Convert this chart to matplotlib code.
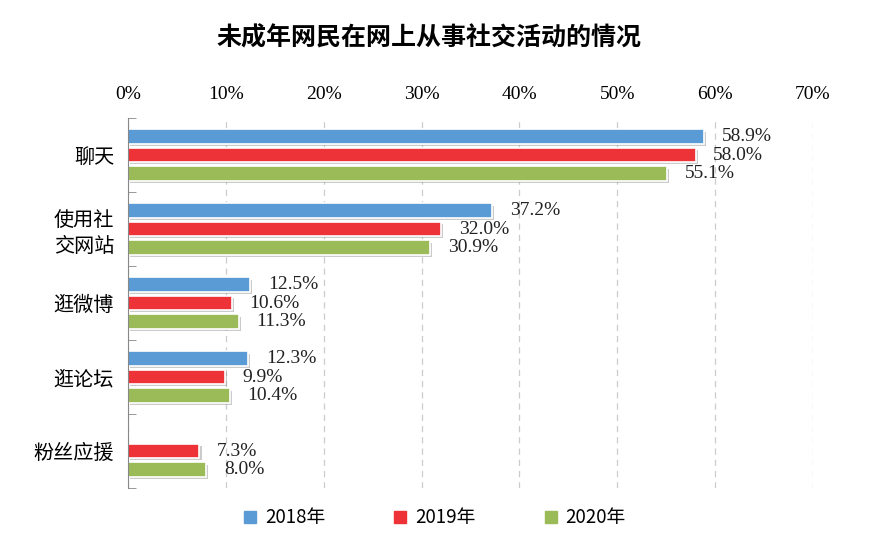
import numpy as np
import matplotlib
matplotlib.use('Agg')
import matplotlib.pyplot as plt
import matplotlib.patheffects as pe
from matplotlib.lines import Line2D

plt.rcParams['font.family'] = ['Noto Sans CJK SC', 'DejaVu Sans']

# === Data
categories = ['聊天', '使用社\n交网站', '逛微博', '逛论坛', '粉丝应援']
years = ['2018年', '2019年', '2020年']
v2018 = [58.9, 37.2, 12.5, 12.3, np.nan]
v2019 = [58.0, 32.0, 10.6, 9.9, 7.3]
v2020 = [55.1, 30.9, 11.3, 10.4, 8.0]
colors = ['#5B9BD5', '#EE3338', '#9BBB59']

# === Figure
fig = plt.figure(figsize=(8.84, 5.38), dpi=100)
ax = fig.add_axes([128 / 884, 1 - 488 / 538, (813 - 128) / 884, (488 - 118) / 538])

y = np.arange(len(categories))
step = 0.25
bar_h = 0.19
shadow = [pe.SimplePatchShadow(offset=(1.5, -1.5), shadow_rgbFace='#999999', alpha=0.5), pe.Normal()]

for k, (vals, col) in enumerate(zip([v2018, v2019, v2020], colors)):
    pos = y + (k - 1) * step
    bars = ax.barh(pos, vals, height=bar_h, color=col, edgecolor='white', linewidth=1.2)
    for b in bars:
        b.set_path_effects(shadow)
    for p, v in zip(pos, vals):
        if np.isnan(v):
            continue
        ax.text(v + 1.8, p, f'{v:.1f}%', va='center', ha='left',
                fontsize=14, family='Liberation Serif', color='#222222')

ax.set_xlim(0, 70)
ax.set_ylim(len(categories) - 0.5, -0.5)

# x axis on top
ax.xaxis.tick_top()
ax.set_xticks(np.arange(0, 71, 10))
ax.set_xticklabels([f'{t}%' for t in range(0, 71, 10)], family='Liberation Serif', fontsize=14)
ax.tick_params(axis='x', length=0, pad=11)
ax.grid(axis='x', linestyle=(0, (5, 4)), color='#cccccc', linewidth=0.9)
ax.set_axisbelow(True)

# y axis categories, boundary ticks
ax.set_yticks(y)
ax.set_yticklabels(categories, fontsize=14.5, linespacing=1.25)
ax.tick_params(axis='y', which='major', length=0, pad=10)
ax.set_yticks(np.arange(-0.5, len(categories) + 0.5, 1), minor=True)
ax.tick_params(axis='y', which='minor', direction='in', length=6, color='#888888')

for s in ['top', 'right', 'bottom']:
    ax.spines[s].set_visible(False)
ax.spines['left'].set_color('#888888')

# title
fig.text(0.485, 1 - 38 / 538, '未成年网民在网上从事社交活动的情况', ha='center', va='center',
         fontsize=18, fontweight='bold')

# legend
handles = [Line2D([], [], marker='s', linestyle='', markersize=8, color=c) for c in colors]
fig.legend(handles, years, loc='center', bbox_to_anchor=(0.49, 1 - 518 / 538), ncol=3,
           frameon=False, fontsize=13.5, handletextpad=0.3, columnspacing=3.5, handlelength=1.0)

fig.savefig('out.png', dpi=100)
plt.close(fig)
